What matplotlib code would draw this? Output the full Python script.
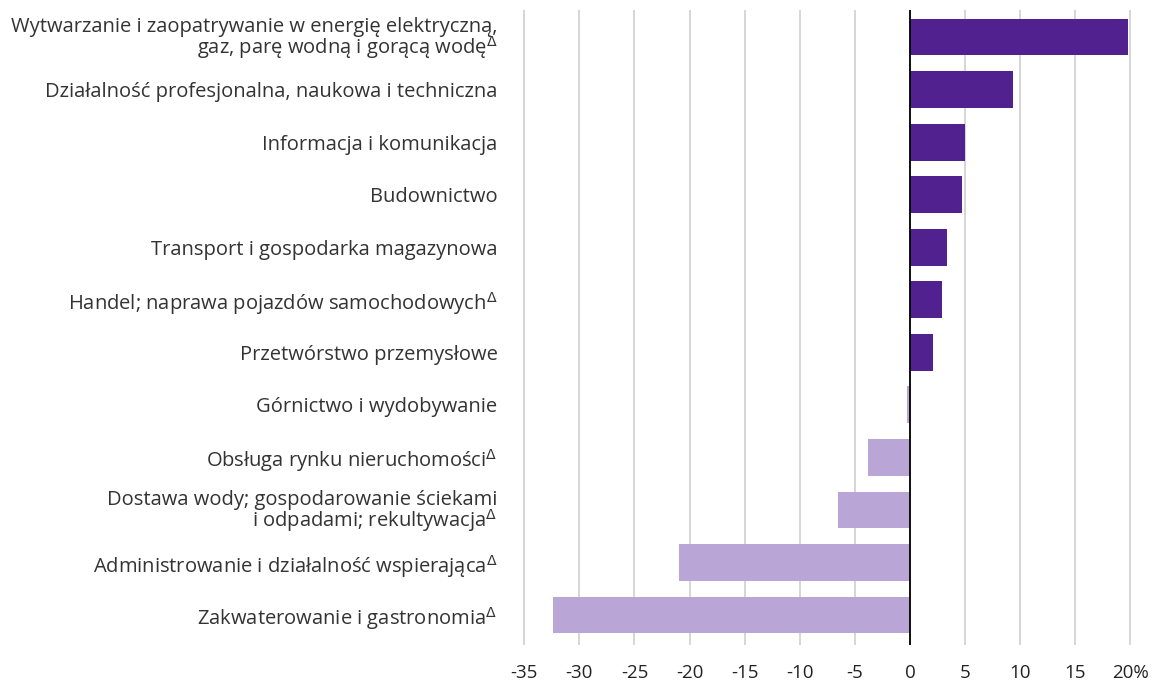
import matplotlib.pyplot as plt
from matplotlib.ticker import FuncFormatter

SUP = r"$^{\Delta}$"

categories = [
    "Wytwarzanie i zaopatrywanie w energię elektryczną,\ngaz, parę wodną i gorącą wodę" + SUP,
    "Działalność profesjonalna, naukowa i techniczna",
    "Informacja i komunikacja",
    "Budownictwo",
    "Transport i gospodarka magazynowa",
    "Handel; naprawa pojazdów samochodowych" + SUP,
    "Przetwórstwo przemysłowe",
    "Górnictwo i wydobywanie",
    "Obsługa rynku nieruchomości" + SUP,
    "Dostawa wody; gospodarowanie ściekami\ni odpadami; rekultywacja" + SUP,
    "Administrowanie i działalność wspierająca" + SUP,
    "Zakwaterowanie i gastronomia" + SUP,
]
values = [19.8, 9.4, 5.0, 4.7, 3.4, 2.9, 2.1, -0.3, -3.8, -6.5, -21.0, -32.4]
ticks = [-35, -30, -25, -20, -15, -10, -5, 0, 5, 10, 15, 20]

DARK = "#51218f"
LIGHT = "#b9a6d6"

plt.rcParams["font.family"] = ["Open Sans", "DejaVu Sans"]
plt.rcParams["mathtext.fontset"] = "dejavusans"

fig = plt.figure(figsize=(11.67, 6.84), dpi=100)
ax = fig.add_axes([0.437, 0.057, 0.557, 0.928])

y = list(range(len(categories)))
colors = [DARK if v > 0 else LIGHT for v in values]
ax.barh(y, values, height=0.7, color=colors, zorder=2)

ax.set_xlim(-36.3, 22.7)
ax.set_ylim(11.57, -0.51)
ax.set_xticks(ticks)
ax.xaxis.set_major_formatter(FuncFormatter(lambda v, p: f"{v:.0f}%" if v == 20 else f"{v:.0f}"))
ax.set_yticks(y)
ax.set_yticklabels(categories, fontsize=14.5, color="#333333", linespacing=0.85)

ax.grid(axis="x", color="#d0d0d0", linewidth=1.2, zorder=0)
ax.axvline(0, color="black", linewidth=1.3, zorder=3)
for s in ax.spines.values():
    s.set_visible(False)
ax.tick_params(axis="y", length=0, pad=9)
ax.tick_params(axis="x", length=0, pad=14, labelsize=13.5, colors="#222222")

fig.savefig("out.png", dpi=100)
